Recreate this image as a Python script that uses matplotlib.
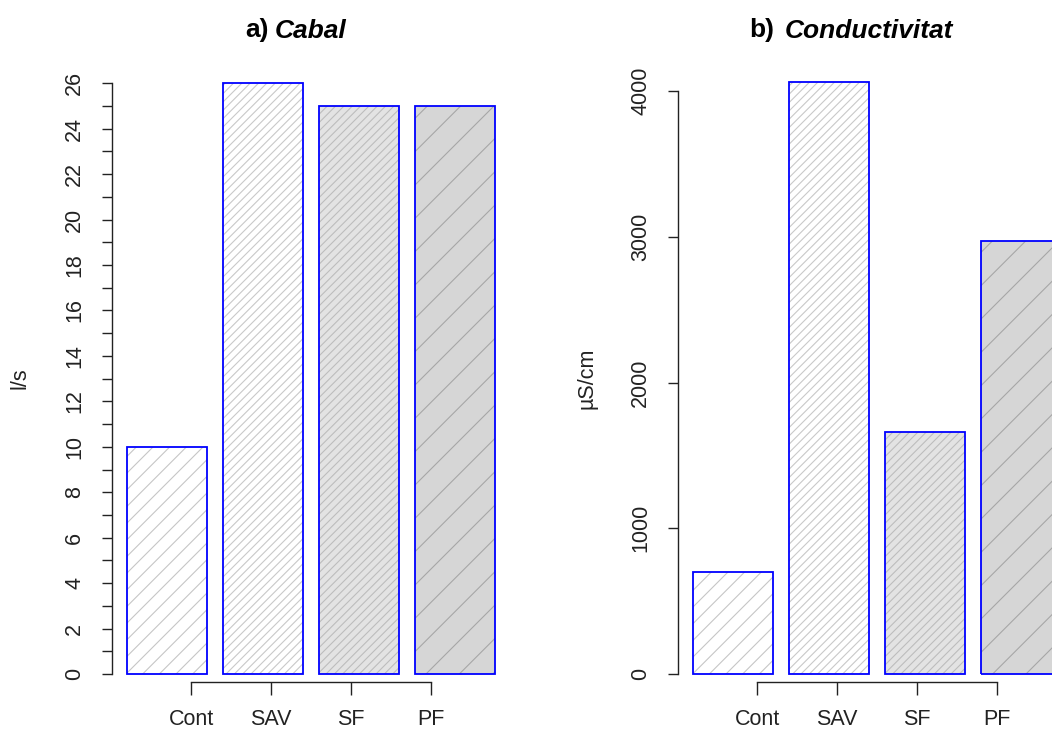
import matplotlib
matplotlib.use("Agg")
import matplotlib.pyplot as plt

plt.rcParams['font.family'] = ['Liberation Sans', 'DejaVu Sans']
plt.rcParams['hatch.linewidth'] = 0.8

# ---- data ----
categories = ["Cont", "SAV", "SF", "PF"]
cabal = [10, 26, 25, 25]              # l/s
conductivitat = [700, 4060, 1660, 2970]  # µS/cm
cabal_ticks = list(range(0, 27))
cabal_labels = [str(v) if v % 2 == 0 else "" for v in cabal_ticks]
cond_ticks = [0, 1000, 2000, 3000, 4000]
cond_labels = ["0", "1000", "2000", "3000", "4000"]

# ---- styles per bar ----
faces = ["white", "white", "#e3e3e3", "#d6d6d6"]
hatches = ["//", "////", "////", "/"]
hatch_cols = ["#c6c6c6", "#c9c9c9", "#bdbdbd", "#a6a6a6"]

W, H = 1052, 731
fig = plt.figure(figsize=(W / 100, H / 100), dpi=100)

def px_axes(left, right, top, bottom):
    return fig.add_axes([left / W, 1 - bottom / H, (right - left) / W, (bottom - top) / H])

space, width = 0.2, 1.0
centers = [space + width / 2 + i * (space + width) for i in range(len(categories))]
xlim = (0.016, 4.984)
plot_w = (xlim[1] - xlim[0]) * 80

def draw_panel(ax, values, ylim, yticks, ylabels, ylab="", lab_x=-0.232):
    ax.set_xlim(*xlim)
    ax.set_ylim(*ylim)
    for c, v, fc, h, hc in zip(centers, values, faces, hatches, hatch_cols):
        ax.bar(c, v, width=width, facecolor=fc, edgecolor=hc, hatch=h, linewidth=0)
        ax.bar(c, v, width=width, facecolor="none", edgecolor="#0000ff", linewidth=1.3)
    for s in ["top", "right"]:
        ax.spines[s].set_visible(False)
    ax.spines["left"].set_bounds(yticks[0], yticks[-1])
    ax.spines["bottom"].set_position(("axes", 0.0245))
    ax.spines["bottom"].set_bounds(1, 4)
    for s in ["left", "bottom"]:
        ax.spines[s].set_color("#222222")
        ax.spines[s].set_linewidth(1.0)
    ax.set_yticks(yticks)
    ax.set_yticklabels(ylabels, rotation=90, va="center")
    ax.set_xticks([1, 2, 3, 4])
    ax.set_xticklabels(categories)
    ax.tick_params(axis="y", length=7.5, width=1.0, color="#222222", pad=12,
                   labelsize=15.5, labelcolor="#222222")
    ax.tick_params(axis="x", length=9.2, width=1.0, color="#222222", pad=10.5,
                   labelsize=15.5, labelcolor="#222222")
    ax.set_ylabel(ylab, fontsize=15.5, color="#222222")
    ax.yaxis.set_label_coords(lab_x, 0.5)
    ax.yaxis.label.set_va("center")
    ax.patch.set_alpha(0)

# panel a
axa = px_axes(112.3, 112.3 + plot_w, 59.7, 697.6)
draw_panel(axa, cabal, (-1.04, 27.04), cabal_ticks, cabal_labels, ylab="l/s", lab_x=-0.232)

# panel b
axb = px_axes(678.3, 678.3 + plot_w, 58.6, 697.7)
draw_panel(axb, conductivitat, (-162.4, 4222.4), cond_ticks, cond_labels, ylab="µS/cm", lab_x=-0.2297)

# titles
tb = 1 - 37.5 / H
fig.text(245 / W, tb, "a)", fontsize=19, fontweight="bold", va="baseline", ha="left")
fig.text(275 / W, tb, "Cabal", fontsize=19, fontweight="bold", fontstyle="italic", va="baseline", ha="left")
fig.text(749 / W, tb, "b)", fontsize=19, fontweight="bold", va="baseline", ha="left")
fig.text(785 / W, tb, "Conductivitat", fontsize=19, fontweight="bold", fontstyle="italic", va="baseline", ha="left")

fig.savefig("out.png", dpi=100)
